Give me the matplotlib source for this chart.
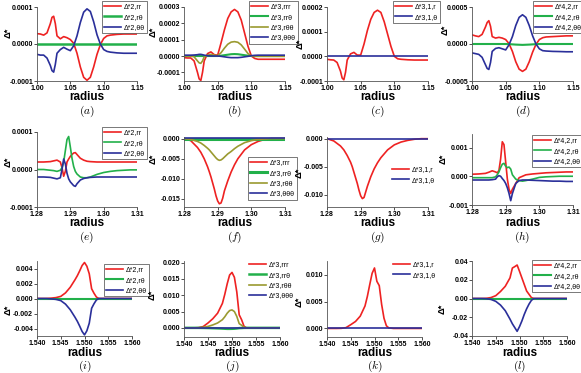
import numpy as np
import matplotlib
matplotlib.use('Agg')
import matplotlib.pyplot as plt
from matplotlib.ticker import FormatStrFormatter

plt.rcParams['mathtext.fontset'] = 'cm'
plt.rcParams['font.family'] = ['Liberation Sans', 'DejaVu Sans']

RED = '#ee2222'
GREEN = '#22b04a'
BLUE = '#2a2f9a'
OLIVE = '#9a9a30'

# ---- row 1: radius 1.00 - 1.15 ----
x1 = [1.000, 1.005, 1.010, 1.015, 1.020, 1.0225, 1.025, 1.0275, 1.030, 1.035, 1.040, 1.045, 1.050,
      1.055, 1.060, 1.065, 1.070, 1.075, 1.080, 1.085, 1.090, 1.095, 1.100, 1.105, 1.110, 1.120,
      1.130, 1.140, 1.150]
# (a) units 1e-4
a_rr = [0.28, 0.27, 0.24, 0.30, 0.55, 0.72, 0.75, 0.55, 0.22, 0.14, 0.20, 0.17, 0.12,
        0.02, -0.25, -0.62, -0.90, -0.98, -0.90, -0.62, -0.28, -0.02, 0.15, 0.22, 0.24, 0.26,
        0.27, 0.27, 0.27]
a_rt = [0.0] * 29
a_tt = [-0.28, -0.30, -0.30, -0.38, -0.58, -0.72, -0.76, -0.55, -0.25, -0.15, -0.09, -0.14, -0.18,
        -0.05, 0.22, 0.58, 0.86, 0.95, 0.88, 0.60, 0.25, 0.0, -0.15, -0.20, -0.22, -0.24,
        -0.25, -0.25, -0.25]
# (b) units 1e-4
b_rrr = [-0.10, -0.12, -0.12, -0.30, -1.00, -1.40, -1.50, -1.00, -0.30, 0.15, 0.25, 0.08, 0.05,
         0.80, 1.60, 2.30, 2.70, 2.85, 2.70, 2.20, 1.40, 0.60, 0.0, -0.15, -0.20, -0.20,
         -0.20, -0.20, -0.20]
b_rrt = [0.0, 0.0, 0.0, 0.0, 0.0, 0.0, 0.0, 0.0, 0.0, 0.0, 0.0, 0.0, 0.0,
         0.02, 0.05, 0.08, 0.11, 0.12, 0.11, 0.08, 0.05, 0.02, 0.0, 0.0, 0.0, 0.0,
         0.0, 0.0, 0.0]
b_rtt = [0.0, 0.0, 0.0, -0.05, -0.30, -0.42, -0.45, -0.30, -0.05, 0.05, 0.10, 0.05, 0.02,
         0.20, 0.48, 0.72, 0.85, 0.88, 0.84, 0.68, 0.42, 0.15, 0.0, -0.02, -0.02, -0.02,
         -0.02, -0.02, -0.02]
b_ttt = [0.05, 0.05, 0.05, 0.06, 0.08, 0.10, 0.10, 0.08, 0.05, 0.02, 0.0, 0.0, 0.0,
         -0.02, -0.05, -0.08, -0.10, -0.10, -0.10, -0.08, -0.05, -0.02, 0.02, 0.04, 0.05, 0.05,
         0.05, 0.05, 0.05]
# (c) units 1e-4
c_r = [-0.12, -0.14, -0.15, -0.25, -0.60, -0.88, -0.95, -0.65, -0.15, 0.10, 0.16, 0.05, 0.05,
       0.50, 1.05, 1.50, 1.78, 1.87, 1.78, 1.40, 0.90, 0.40, 0.0, -0.10, -0.12, -0.14,
       -0.15, -0.15, -0.15]
c_t = [0.0] * 29
# (d) units 1e-4
d_rr = [1.24, 1.10, 1.00, 1.30, 2.30, 2.90, 3.15, 2.40, 1.00, 0.80, 0.90, 0.80, 0.60,
        0.05, -1.00, -2.40, -3.40, -3.70, -3.40, -2.40, -1.10, -0.05, 0.60, 0.85, 0.95, 1.00,
        1.05, 1.10, 1.10]
d_rt = [0.0, 0.0, 0.0, 0.0, 0.0, 0.0, 0.0, 0.0, 0.0, 0.0, 0.0, 0.0, 0.0,
        -0.02, -0.05, -0.08, -0.10, -0.12, -0.10, -0.08, -0.05, -0.02, 0.0, 0.0, 0.0, 0.0,
        0.0, 0.0, 0.0]
d_tt = [-1.20, -1.30, -1.40, -1.80, -2.80, -3.30, -3.44, -2.50, -1.00, -0.60, -0.50, -0.65, -0.80,
        -0.10, 1.00, 2.50, 3.60, 3.95, 3.60, 2.50, 1.10, 0.0, -0.65, -0.90, -0.95, -1.00,
        -1.02, -1.05, -1.05]

# ---- row 2: radius 1.28 - 1.31 ----
x2 = [1.280, 1.282, 1.284, 1.285, 1.286, 1.287, 1.2875, 1.288, 1.2885, 1.289, 1.2895, 1.290,
      1.2905, 1.291, 1.2915, 1.292, 1.293, 1.294, 1.295, 1.296, 1.298, 1.300, 1.302, 1.304,
      1.306, 1.308, 1.310]
# (e) units 1e-4
e_rr = [0.20, 0.20, 0.21, 0.23, 0.25, 0.20, 0.05, -0.18, -0.05, 0.20, 0.28, 0.35,
        0.40, 0.44, 0.45, 0.40, 0.30, 0.25, 0.22, 0.21, 0.20, 0.20, 0.20, 0.20,
        0.20, 0.20, 0.20]
e_rt = [0.0, 0.0, -0.02, -0.03, -0.05, -0.02, 0.05, 0.20, 0.50, 0.80, 0.88, 0.60,
        0.30, 0.08, -0.05, -0.12, -0.20, -0.22, -0.22, -0.20, -0.13, -0.08, -0.05, -0.03,
        -0.02, -0.01, -0.01]
e_tt = [-0.20, -0.20, -0.21, -0.23, -0.25, -0.22, 0.0, 0.28, 0.15, -0.10, -0.25, -0.33,
        -0.38, -0.43, -0.45, -0.38, -0.28, -0.24, -0.22, -0.21, -0.20, -0.20, -0.20, -0.20,
        -0.20, -0.20, -0.20]
# (f) units 1e-3
f_rrr = [0.0, -0.5, -2.2, -3.4, -5.0, -7.0, -8.2, -9.5, -11.0, -12.5, -14.2, -15.5,
         -16.2, -16.0, -14.8, -13.0, -10.5, -8.3, -6.5, -5.0, -2.8, -1.5, -0.7, -0.2,
         0.0, 0.0, 0.0]
f_rrt = [0.0] * 27
f_rtt = [0.0, -0.2, -0.7, -1.1, -1.7, -2.4, -2.8, -3.3, -3.8, -4.3, -4.8, -5.2,
         -5.4, -5.3, -5.0, -4.6, -3.8, -3.2, -2.5, -1.9, -1.0, -0.5, -0.2, -0.1,
         0.0, 0.0, 0.0]
f_ttt = [0.05] * 27
# (g) units 1e-3
g_r = [0.0, -0.4, -1.3, -2.0, -3.0, -4.2, -5.0, -6.0, -7.0, -8.0, -9.2, -10.2,
       -10.7, -10.5, -9.5, -8.5, -6.8, -5.4, -4.3, -3.4, -2.0, -1.1, -0.6, -0.3,
       -0.1, 0.0, 0.0]
g_t = [0.0] * 27
# (h) units 1e-3
h_rr = [0.07, 0.08, 0.10, 0.14, 0.19, 0.15, 0.12, 0.20, 0.60, 1.20, 1.10, 0.50,
        -0.10, -0.45, -0.60, -0.45, -0.25, -0.05, 0.0, 0.05, 0.08, 0.10, 0.12, 0.13,
        0.14, 0.15, 0.15]
h_rt = [-0.05, -0.05, -0.05, -0.05, -0.05, -0.02, 0.05, 0.15, 0.30, 0.42, 0.45, 0.35,
        0.30, 0.32, 0.25, 0.05, -0.10, -0.15, -0.17, -0.15, -0.10, -0.04, -0.02, -0.01,
        0.0, 0.0, 0.0]
h_tt = [-0.13, -0.13, -0.13, -0.13, -0.12, -0.10, -0.02, 0.02, 0.0, -0.08, -0.15, -0.25,
        -0.40, -0.60, -0.85, -0.60, -0.25, -0.15, -0.13, -0.13, -0.14, -0.15, -0.16, -0.17,
        -0.17, -0.18, -0.18]

# ---- row 3: radius 1.540 - 1.560 ----
x3 = [1.540, 1.542, 1.543, 1.544, 1.545, 1.546, 1.547, 1.548, 1.5485, 1.549, 1.5495, 1.550,
      1.5505, 1.551, 1.5515, 1.552, 1.5525, 1.553, 1.554, 1.556, 1.558, 1.560]
# (i) units 1e-3
i_rr = [0.0, 0.0, 0.05, 0.12, 0.28, 0.75, 1.50, 2.50, 3.05, 3.70, 4.40, 4.80,
        4.30, 3.30, 1.30, 0.70, 0.20, 0.0, 0.0, 0.0, 0.0, 0.0]
i_rt = [0.0] * 22
i_tt = [0.0, 0.0, -0.05, -0.12, -0.28, -0.75, -1.50, -2.50, -3.05, -3.70, -4.40, -4.85,
        -4.30, -3.30, -1.30, -0.70, -0.20, 0.0, 0.0, 0.0, 0.0, 0.0]
# (j) units 1e-3
j_rrr = [0.0, 0.0, 0.05, 0.40, 1.50, 2.80, 4.50, 7.50, 10.3, 13.5, 16.2, 17.0,
         15.5, 11.0, 4.0, 2.5, 0.5, 0.0, 0.0, 0.0, 0.0, 0.0]
j_rrt = [0.0, 0.0, 0.0, -0.02, -0.05, -0.10, -0.15, -0.22, -0.26, -0.30, -0.30, -0.28,
         -0.25, -0.18, -0.08, -0.05, -0.01, 0.0, 0.0, 0.0, 0.0, 0.0]
j_rtt = [0.0, 0.0, 0.02, 0.12, 0.45, 0.90, 1.50, 2.50, 3.40, 4.50, 5.30, 5.50,
         5.00, 3.50, 1.30, 0.80, 0.15, 0.0, 0.0, 0.0, 0.0, 0.0]
j_ttt = [0.0] * 22
# (k) units 1e-3
k_r = [0.0, 0.0, 0.02, 0.15, 0.70, 1.30, 2.30, 4.20, 6.00, 8.20, 10.3, 11.3,
       8.80, 8.00, 4.50, 1.90, 0.50, 0.10, 0.0, 0.0, 0.0, 0.0]
k_t = [0.0] * 22
# (l) units 1e-3
l_rr = [0.0, 0.0, 0.2, 1.0, 3.0, 7.5, 13.0, 22.0, 32.5, 34.0, 35.7, 29.0,
        22.0, 15.0, 8.0, 4.5, 1.0, 0.0, 0.0, 0.0, 0.0, 0.0]
l_rt = [0.0] * 22
l_tt = [0.0, 0.0, -0.2, -1.0, -3.0, -7.0, -13.0, -22.0, -27.0, -31.0, -35.0, -30.0,
        -24.0, -17.0, -11.0, -6.0, -2.0, 0.0, 0.0, 0.0, 0.0, 0.0]

W, H = 581, 373
fig = plt.figure(figsize=(W / 100, H / 100), dpi=100)


def panel(box, x, series, scale, ylim, yticks, yfmt, xlim, xticks, xfmt,
          leg_xy, frame, caption, rad_y, cap_y, ylab_xy):
    left, top, right, bottom = box
    ax = fig.add_axes([left / W, 1 - bottom / H, (right - left) / W, (bottom - top) / H])
    for ys, col, lab, lw in series:
        ax.plot(x, np.array(ys) * scale, color=col, lw=lw, label=lab)
    ax.set_xlim(*xlim)
    ax.set_ylim(*ylim)
    ax.set_xticks(xticks)
    ax.set_yticks(yticks)
    ax.xaxis.set_major_formatter(FormatStrFormatter(xfmt))
    ax.yaxis.set_major_formatter(FormatStrFormatter(yfmt))
    for s in ['top', 'right']:
        ax.spines[s].set_visible(False)
    for s in ['left', 'bottom']:
        ax.spines[s].set_linewidth(0.6)
        ax.spines[s].set_color('#555555')
    ax.tick_params(labelsize=5.0, length=2, width=0.6, pad=0.8, colors='#333333',
                   labelcolor='black')
    for t in ax.get_xticklabels() + ax.get_yticklabels():
        t.set_fontweight('bold')
    leg = ax.legend(loc='upper left', bbox_to_anchor=(leg_xy[0] / W, 1 - leg_xy[1] / H),
                    bbox_transform=fig.transFigure, fontsize=5.0, frameon=frame,
                    fancybox=False, edgecolor='#444444', framealpha=1,
                    handlelength=2.4, labelspacing=0.5, borderpad=0.3, handletextpad=0.5,
                    borderaxespad=0)
    leg.get_frame().set_linewidth(0.5)
    cx = (left + right) / 2
    fig.text(cx / W, 1 - rad_y / H, 'radius', ha='center', va='center',
             fontsize=8.4, fontweight='bold')
    fig.text(cx / W, 1 - cap_y / H, caption, ha='center', va='center', fontsize=8.2)
    fig.text(ylab_xy[0] / W, 1 - ylab_xy[1] / H, 'Δ*', rotation=90,
             ha='center', va='center', fontsize=6.8, fontweight='bold')
    return ax


r1 = dict(xlim=(1.0, 1.15), xticks=[1.00, 1.05, 1.10, 1.15], xfmt='%.2f', rad_y=97, cap_y=111)
r2 = dict(xlim=(1.28, 1.31), xticks=[1.28, 1.29, 1.30, 1.31], xfmt='%.2f', rad_y=223, cap_y=237)
r3 = dict(xlim=(1.540, 1.560), xticks=[1.540, 1.545, 1.550, 1.555, 1.560], xfmt='%.3f',
          rad_y=353, cap_y=366)

panel((37, 7, 137, 81), x1,
      [(a_rr, RED, 'Δ*2,rr', 1.2), (a_rt, GREEN, 'Δ*2,rθ', 1.8), (a_tt, BLUE, 'Δ*2,θθ', 1.2)],
      1e-4, (-1e-4, 1e-4), [-1e-4, 0, 1e-4], '%.4f', leg_xy=(102, 1), frame=True,
      caption=r'$(a)$', ylab_xy=(8, 33), **r1)
panel((184, 7, 285, 81), x1,
      [(b_rrr, RED, 'Δ*3,rrr', 1.2), (b_rrt, GREEN, 'Δ*3,rrθ', 1.5),
       (b_rtt, OLIVE, 'Δ*3,rθθ', 1.2), (b_ttt, BLUE, 'Δ*3,θθθ', 1.2)],
      1e-4, (-1.53e-4, 3e-4), [-1e-4, 0, 1e-4, 2e-4, 3e-4], '%.4f', leg_xy=(249, 1), frame=True,
      caption=r'$(b)$', ylab_xy=(153, 32), **r1)
panel((327, 7, 428, 81), x1,
      [(c_r, RED, 'Δ*3,1,r', 1.2), (c_t, BLUE, 'Δ*3,1,θ', 1.2)],
      1e-4, (-1e-4, 2e-4), [-1e-4, 0, 1e-4, 2e-4], '%.4f', leg_xy=(393, 1), frame=True,
      caption=r'$(c)$', ylab_xy=(300, 44), **r1)
panel((472, 7, 573, 81), x1,
      [(d_rr, RED, 'Δ*4,2,rr', 1.2), (d_rt, GREEN, 'Δ*4,2,rθ', 1.5), (d_tt, BLUE, 'Δ*4,2,θθ', 1.2)],
      1e-4, (-5e-4, 5e-4), [-5e-4, 0, 5e-4], '%.4f', leg_xy=(533, 1), frame=True,
      caption=r'$(d)$', ylab_xy=(445, 30), **r1)

panel((37, 132, 137, 207), x2,
      [(e_rr, RED, 'Δ*2,rr', 1.2), (e_rt, GREEN, 'Δ*2,rθ', 1.2), (e_tt, BLUE, 'Δ*2,θθ', 1.2)],
      1e-4, (-1e-4, 1e-4), [-1e-4, 0, 1e-4], '%.4f', leg_xy=(102, 127), frame=True,
      caption=r'$(e)$', ylab_xy=(8, 162), **r2)
panel((184, 137, 285, 207), x2,
      [(f_rrr, RED, 'Δ*3,rrr', 1.2), (f_rrt, GREEN, 'Δ*3,rrθ', 2.2),
       (f_rtt, OLIVE, 'Δ*3,rθθ', 1.2), (f_ttt, BLUE, 'Δ*3,θθθ', 1.2)],
      1e-3, (-0.017, 0.0004), [-0.015, -0.010, -0.005, 0.0], '%.3f', leg_xy=(248, 157),
      frame=True, caption=r'$(f)$', ylab_xy=(153, 159), **r2)
panel((327, 137, 428, 207), x2,
      [(g_r, RED, 'Δ*3,1,r', 1.2), (g_t, BLUE, 'Δ*3,1,θ', 1.2)],
      1e-3, (-0.0122, 0.0003), [-0.010, -0.005, 0.0], '%.3f', leg_xy=(390, 164), frame=False,
      caption=r'$(g)$', ylab_xy=(299, 173), **r2)
panel((472, 134, 573, 205), x2,
      [(h_rr, RED, 'Δ*4,2,rr', 1.2), (h_rt, GREEN, 'Δ*4,2,rθ', 1.2), (h_tt, BLUE, 'Δ*4,2,θθ', 1.2)],
      1e-3, (-1e-3, 1.47e-3), [-1e-3, 0, 1e-3], '%.3f', leg_xy=(532, 135), frame=True,
      caption=r'$(h)$', ylab_xy=(443, 159), **r2)

panel((37, 261, 132, 336), x3,
      [(i_rr, RED, 'Δ*2,rr', 1.2), (i_rt, GREEN, 'Δ*2,rθ', 1.5), (i_tt, BLUE, 'Δ*2,θθ', 1.2)],
      1e-3, (-0.005, 0.005), [-0.004, -0.002, 0.0, 0.002, 0.004], '%.3f', leg_xy=(104, 264),
      frame=True, caption=r'$(i)$', ylab_xy=(8, 310), **r3)
panel((184, 261, 280, 337), x3,
      [(j_rrr, RED, 'Δ*3,rrr', 1.2), (j_rrt, GREEN, 'Δ*3,rrθ', 1.8),
       (j_rtt, OLIVE, 'Δ*3,rθθ', 1.2), (j_ttt, BLUE, 'Δ*3,θθθ', 1.2)],
      1e-3, (-0.0028, 0.0205), [0.0, 0.005, 0.010, 0.015, 0.020], '%.3f', leg_xy=(247, 259),
      frame=False, caption=r'$(j)$', ylab_xy=(152, 295), **r3)
panel((327, 261, 422, 337), x3,
      [(k_r, RED, 'Δ*3,1,r', 1.2), (k_t, BLUE, 'Δ*3,1,θ', 1.2)],
      1e-3, (-0.0016, 0.0126), [0.0, 0.005, 0.010], '%.3f', leg_xy=(391, 259), frame=False,
      caption=r'$(k)$', ylab_xy=(299, 302), **r3)
panel((472, 261, 567, 336), x3,
      [(l_rr, RED, 'Δ*4,2,rr', 1.2), (l_rt, GREEN, 'Δ*4,2,rθ', 1.5), (l_tt, BLUE, 'Δ*4,2,θθ', 1.2)],
      1e-3, (-0.04, 0.04), [-0.04, -0.02, 0.0, 0.02, 0.04], '%.2f', leg_xy=(532, 260),
      frame=True, caption=r'$(l)$', ylab_xy=(442, 309), **r3)

fig.savefig('out.png', dpi=100)
